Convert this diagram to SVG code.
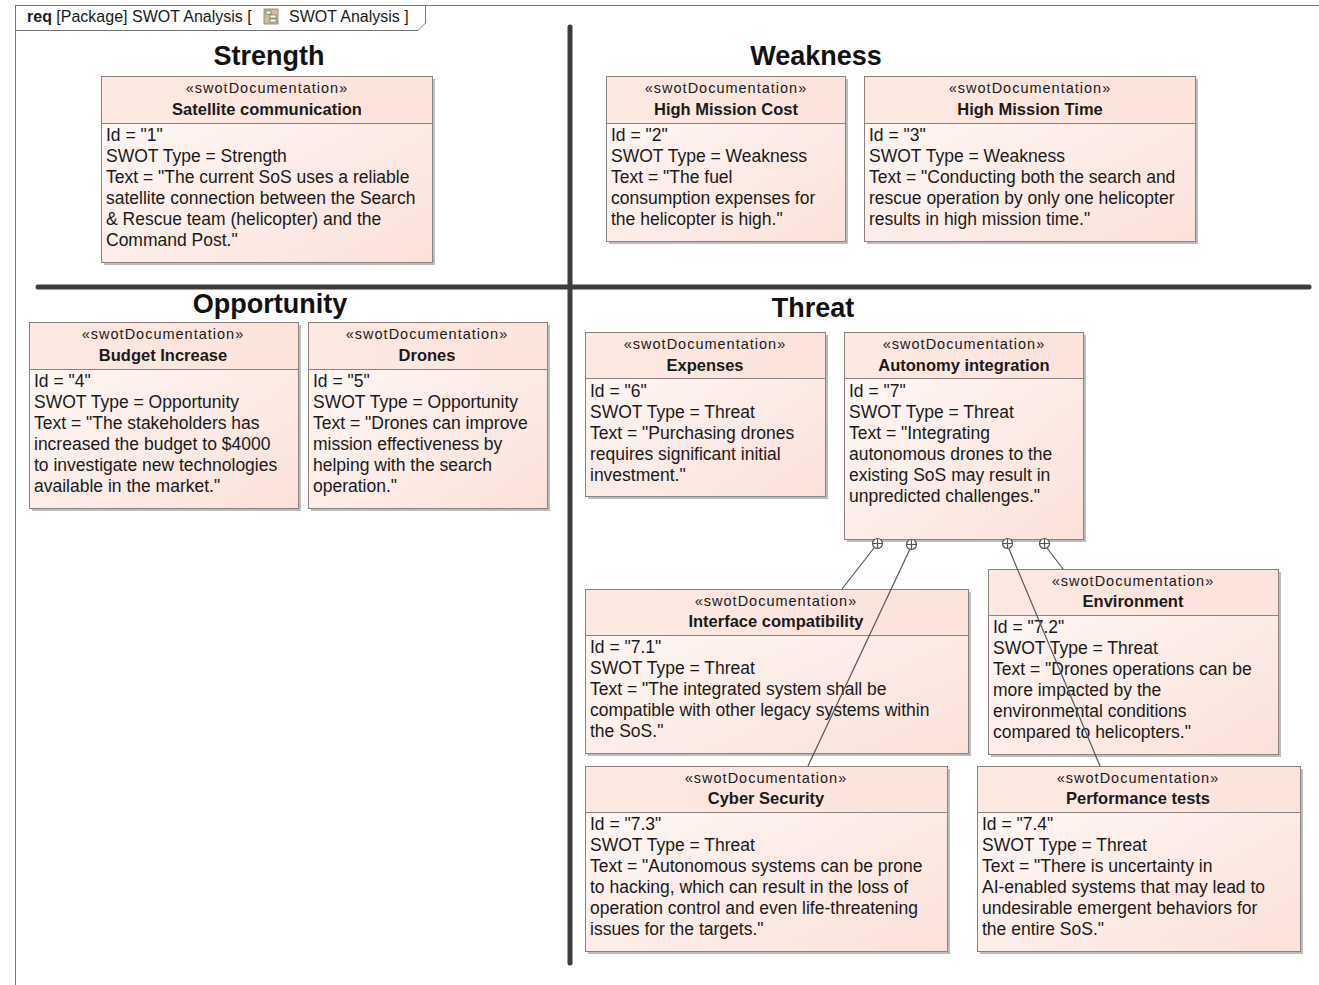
<svg xmlns="http://www.w3.org/2000/svg" width="1319" height="985" viewBox="0 0 1319 985">
<defs>
<linearGradient id="bodyGrad" x1="0" y1="0" x2="1" y2="1">
<stop offset="0" stop-color="#fffaf8"/>
<stop offset="1" stop-color="#fbe1da"/>
</linearGradient>
<linearGradient id="headGrad" x1="0" y1="0" x2="1" y2="0">
<stop offset="0" stop-color="#fde9e3"/>
<stop offset="1" stop-color="#fce3dc"/>
</linearGradient>
</defs>
<style>
text{font-family:"Liberation Sans",Arial,sans-serif;fill:#1a1a1a}
.shadow{fill:#bdbdbd}
.box{fill:url(#bodyGrad);stroke:#8c817e;stroke-width:1}
.head{fill:url(#headGrad);stroke:#8c817e;stroke-width:1}
.st{font-size:14.5px;letter-spacing:1px;text-anchor:middle}
.nm{font-size:16.5px;font-weight:bold;text-anchor:middle}
.bd{font-size:17.5px}
.title{font-size:27px;font-weight:bold;text-anchor:middle;fill:#111}
.sep{stroke:#3c3c3c;stroke-width:5;stroke-linecap:round}
.conn{stroke:#555;stroke-width:1.2;fill:none}
.cp{fill:#fff;stroke:#555;stroke-width:1.2}
</style>
<rect x="0" y="0" width="1319" height="985" fill="#ffffff"/>
<g id="frame">
<rect x="15.5" y="5.5" width="1400" height="1100" fill="none" stroke="#777" stroke-width="1"/>
<path d="M15.5,30.5 H418 L425.5,23 V5.5" fill="none" stroke="#777" stroke-width="1"/>
<text x="27" y="22" font-size="16"><tspan font-weight="bold">req</tspan> [Package] SWOT Analysis [</text>
<rect x="264" y="9" width="14" height="15" fill="#c9bf9a" stroke="#8a8060" stroke-width="0.8"/>
<rect x="266" y="11" width="5" height="3" fill="#fff" stroke="#555" stroke-width="0.6"/>
<rect x="270" y="15" width="6" height="3" fill="#fff" stroke="#555" stroke-width="0.6"/>
<rect x="270" y="19" width="6" height="3" fill="#fff" stroke="#555" stroke-width="0.6"/>
<text x="289" y="22" font-size="16">SWOT Analysis ]</text>
</g>
<g id="separators">
<line class="sep" x1="570" y1="27" x2="570" y2="963"/>
<line class="sep" x1="38" y1="287" x2="1309" y2="287"/>
</g>
<g id="titles">
<text class="title" x="269" y="65">Strength</text>
<text class="title" x="816" y="65">Weakness</text>
<text class="title" x="270" y="313">Opportunity</text>
<text class="title" x="813" y="317">Threat</text>
</g>
<g id="n1">
<rect class="shadow" x="104" y="79" width="331" height="186"/>
<rect class="box" x="101.5" y="76.5" width="331" height="186"/>
<rect class="head" x="101.5" y="76.5" width="331" height="47"/>
<text class="st" x="267" y="93">«swotDocumentation»</text>
<text class="nm" x="267" y="115">Satellite communication</text>
<text class="bd" x="106"><tspan x="106" y="141">Id = "1"</tspan><tspan x="106" y="162">SWOT Type = Strength</tspan><tspan x="106" y="183">Text = "The current SoS uses a reliable</tspan><tspan x="106" y="204">satellite connection between the Search</tspan><tspan x="106" y="225">&amp; Rescue team (helicopter) and the</tspan><tspan x="106" y="246">Command Post."</tspan></text>
</g>
<g id="n2">
<rect class="shadow" x="609" y="79" width="239" height="165"/>
<rect class="box" x="606.5" y="76.5" width="239" height="165"/>
<rect class="head" x="606.5" y="76.5" width="239" height="47"/>
<text class="st" x="726" y="93">«swotDocumentation»</text>
<text class="nm" x="726" y="115">High Mission Cost</text>
<text class="bd"><tspan x="611" y="141">Id = "2"</tspan><tspan x="611" y="162">SWOT Type = Weakness</tspan><tspan x="611" y="183">Text = "The fuel</tspan><tspan x="611" y="204">consumption expenses for</tspan><tspan x="611" y="225">the helicopter is high."</tspan></text>
</g>
<g id="n3">
<rect class="shadow" x="867" y="79" width="331" height="165"/>
<rect class="box" x="864.5" y="76.5" width="331" height="165"/>
<rect class="head" x="864.5" y="76.5" width="331" height="47"/>
<text class="st" x="1030" y="93">«swotDocumentation»</text>
<text class="nm" x="1030" y="115">High Mission Time</text>
<text class="bd"><tspan x="869" y="141">Id = "3"</tspan><tspan x="869" y="162">SWOT Type = Weakness</tspan><tspan x="869" y="183">Text = "Conducting both the search and</tspan><tspan x="869" y="204">rescue operation by only one helicopter</tspan><tspan x="869" y="225">results in high mission time."</tspan></text>
</g>
<g id="n4">
<rect class="shadow" x="32" y="325" width="269" height="186"/>
<rect class="box" x="29.5" y="322.5" width="269" height="186"/>
<rect class="head" x="29.5" y="322.5" width="269" height="47"/>
<text class="st" x="163" y="339">«swotDocumentation»</text>
<text class="nm" x="163" y="361">Budget Increase</text>
<text class="bd"><tspan x="34" y="387">Id = "4"</tspan><tspan x="34" y="408">SWOT Type = Opportunity</tspan><tspan x="34" y="429">Text = "The stakeholders has</tspan><tspan x="34" y="450">increased the budget to $4000</tspan><tspan x="34" y="471">to investigate new technologies</tspan><tspan x="34" y="492">available in the market."</tspan></text>
</g>
<g id="n5">
<rect class="shadow" x="311" y="325" width="239" height="186"/>
<rect class="box" x="308.5" y="322.5" width="239" height="186"/>
<rect class="head" x="308.5" y="322.5" width="239" height="47"/>
<text class="st" x="427" y="339">«swotDocumentation»</text>
<text class="nm" x="427" y="361">Drones</text>
<text class="bd"><tspan x="313" y="387">Id = "5"</tspan><tspan x="313" y="408">SWOT Type = Opportunity</tspan><tspan x="313" y="429">Text = "Drones can improve</tspan><tspan x="313" y="450">mission effectiveness by</tspan><tspan x="313" y="471">helping with the search</tspan><tspan x="313" y="492">operation."</tspan></text>
</g>
<g id="n6">
<rect class="shadow" x="588" y="335" width="240" height="164"/>
<rect class="box" x="585.5" y="332.5" width="240" height="164"/>
<rect class="head" x="585.5" y="332.5" width="240" height="46"/>
<text class="st" x="705" y="349">«swotDocumentation»</text>
<text class="nm" x="705" y="371">Expenses</text>
<text class="bd"><tspan x="590" y="397">Id = "6"</tspan><tspan x="590" y="418">SWOT Type = Threat</tspan><tspan x="590" y="439">Text = "Purchasing drones</tspan><tspan x="590" y="460">requires significant initial</tspan><tspan x="590" y="481">investment."</tspan></text>
</g>
<g id="n7">
<rect class="shadow" x="847" y="335" width="239" height="207"/>
<rect class="box" x="844.5" y="332.5" width="239" height="207"/>
<rect class="head" x="844.5" y="332.5" width="239" height="46"/>
<text class="st" x="964" y="349">«swotDocumentation»</text>
<text class="nm" x="964" y="371">Autonomy integration</text>
<text class="bd"><tspan x="849" y="397">Id = "7"</tspan><tspan x="849" y="418">SWOT Type = Threat</tspan><tspan x="849" y="439">Text = "Integrating</tspan><tspan x="849" y="460">autonomous drones to the</tspan><tspan x="849" y="481">existing SoS may result in</tspan><tspan x="849" y="502">unpredicted challenges."</tspan></text>
</g>
<g id="n71">
<rect class="shadow" x="588" y="592" width="383" height="164"/>
<rect class="box" x="585.5" y="589.5" width="383" height="164"/>
<rect class="head" x="585.5" y="589.5" width="383" height="46"/>
<text class="st" x="776" y="606">«swotDocumentation»</text>
<text class="nm" x="776" y="627">Interface compatibility</text>
<text class="bd"><tspan x="590" y="653">Id = "7.1"</tspan><tspan x="590" y="674">SWOT Type = Threat</tspan><tspan x="590" y="695">Text = "The integrated system shall be</tspan><tspan x="590" y="716">compatible with other legacy systems within</tspan><tspan x="590" y="737">the SoS."</tspan></text>
</g>
<g id="n72">
<rect class="shadow" x="991" y="572" width="290" height="185"/>
<rect class="box" x="988.5" y="569.5" width="290" height="185"/>
<rect class="head" x="988.5" y="569.5" width="290" height="46"/>
<text class="st" x="1133" y="586">«swotDocumentation»</text>
<text class="nm" x="1133" y="607">Environment</text>
<text class="bd"><tspan x="993" y="633">Id = "7.2"</tspan><tspan x="993" y="654">SWOT Type = Threat</tspan><tspan x="993" y="675">Text = "Drones operations can be</tspan><tspan x="993" y="696">more impacted by the</tspan><tspan x="993" y="717">environmental conditions</tspan><tspan x="993" y="738">compared to helicopters."</tspan></text>
</g>
<g id="n73">
<rect class="shadow" x="588" y="769" width="362" height="185"/>
<rect class="box" x="585.5" y="766.5" width="362" height="185"/>
<rect class="head" x="585.5" y="766.5" width="362" height="46"/>
<text class="st" x="766" y="783">«swotDocumentation»</text>
<text class="nm" x="766" y="804">Cyber Security</text>
<text class="bd"><tspan x="590" y="830">Id = "7.3"</tspan><tspan x="590" y="851">SWOT Type = Threat</tspan><tspan x="590" y="872">Text = "Autonomous systems can be prone</tspan><tspan x="590" y="893">to hacking, which can result in the loss of</tspan><tspan x="590" y="914">operation control and even life-threatening</tspan><tspan x="590" y="935">issues for the targets."</tspan></text>
</g>
<g id="n74">
<rect class="shadow" x="980" y="769" width="323" height="185"/>
<rect class="box" x="977.5" y="766.5" width="323" height="185"/>
<rect class="head" x="977.5" y="766.5" width="323" height="46"/>
<text class="st" x="1138" y="783">«swotDocumentation»</text>
<text class="nm" x="1138" y="804">Performance tests</text>
<text class="bd"><tspan x="982" y="830">Id = "7.4"</tspan><tspan x="982" y="851">SWOT Type = Threat</tspan><tspan x="982" y="872">Text = "There is uncertainty in</tspan><tspan x="982" y="893">AI-enabled systems that may lead to</tspan><tspan x="982" y="914">undesirable emergent behaviors for</tspan><tspan x="982" y="935">the entire SoS."</tspan></text>
</g>
<g id="connectors">
<line class="conn" x1="874" y1="548" x2="842" y2="589"/>
<line class="conn" x1="910" y1="549" x2="808" y2="766"/>
<line class="conn" x1="1009" y1="549" x2="1100" y2="766"/>
<line class="conn" x1="1047" y1="548" x2="1063" y2="569"/>
<g>
<circle class="cp" cx="877.5" cy="543.5" r="5"/><path class="conn" d="M872.5,543.5h10M877.5,538.5v10"/>
<circle class="cp" cx="911.5" cy="544.5" r="5"/><path class="conn" d="M906.5,544.5h10M911.5,539.5v10"/>
<circle class="cp" cx="1007.5" cy="543.5" r="5"/><path class="conn" d="M1002.5,543.5h10M1007.5,538.5v10"/>
<circle class="cp" cx="1044.5" cy="543.5" r="5"/><path class="conn" d="M1039.5,543.5h10M1044.5,538.5v10"/>
</g>
</g>
</svg>
